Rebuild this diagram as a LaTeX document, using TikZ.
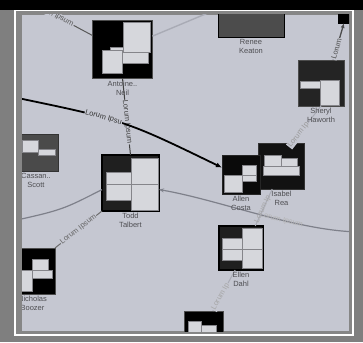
\documentclass[tikz,border=0pt]{standalone}
\usepackage{fontspec}
\setmainfont{Liberation Sans}
\usetikzlibrary{arrows.meta}
\definecolor{ltframe}{HTML}{7F7F7F}
\definecolor{ltband}{HTML}{868686}
\definecolor{ltcanvas}{HTML}{C5C7D1}
\definecolor{ltphoto}{HTML}{D6D7DC}
\definecolor{ltphotoline}{HTML}{85858A}
\definecolor{ltname}{HTML}{4E4E52}
\definecolor{ltedge}{HTML}{7E808A}
\definecolor{ltfaint}{HTML}{A9ABB5}

\begin{document}
\begin{tikzpicture}[x=1pt, y=-1pt,
  face/.style={inner sep=0pt, outer sep=0pt, draw=black!70, line width=0.8pt},
  photo/.style={fill=ltphoto, draw=ltphotoline, line width=0.5pt},
  namelabel/.style={anchor=north, yshift=-2pt, align=center, inner sep=0pt,
    text=ltname, font=\fontsize{7.5}{9}\selectfont},
  edgelabel/.style={sloped, fill=ltcanvas, inner sep=0.6pt,
    font=\fontsize{7.5}{8}\selectfont}]
  % window frame and canvas
  \fill[ltframe] (0,0) rectangle (363,342);
  \fill[ltband] (16,11) rectangle (352,334);
  \draw[white, line width=1.8pt] (15,10.5) rectangle (353,335);
  \fill[ltcanvas] (22,15) rectangle (349,331);
  \begin{scope}
    \clip (22,15) rectangle (349,331);
    % free ends of links leaving the canvas
    \coordinate (lefta) at (8,96);
    \coordinate (leftb) at (8,222);
    \coordinate (rightc) at (362,232);
    \coordinate (upleft) at (30,2);
    % people (portrait boxes)
    \node[face, fill=black, minimum width=60pt, minimum height=58pt] (antoine) at (122.5,49.5) {};
    \node[face, fill=black!70, draw=black, minimum width=66pt, minimum height=40pt] (renee) at (251,17) {};
    \node[face, fill=black, draw=black, minimum width=12pt, minimum height=13pt] (tinybox) at (344,16.5) {};
    \node[face, fill=black!86, minimum width=46pt, minimum height=46pt] (sheryl) at (321,83) {};
    \node[face, fill=black!71, draw=black!80, minimum width=44pt, minimum height=37pt] (cassan) at (36,152.5) {};
    \node[face, fill=black!88, draw=black, line width=2.5pt, minimum width=57pt, minimum height=56pt] (todd) at (130.5,183) {};
    \node[face, fill=black!93, draw=black!80, minimum width=46pt, minimum height=46pt] (isabel) at (281.5,166) {};
    \node[face, fill=black!96, draw=black!85, minimum width=38pt, minimum height=39pt] (allen) at (241,174.5) {};
    \node[face, fill=black!88, draw=black, line width=2pt, minimum width=44pt, minimum height=44pt] (ellen) at (241,248) {};
    \node[face, fill=black, minimum width=45pt, minimum height=46pt] (nicholas) at (32.5,271) {};
    \node[face, fill=black, minimum width=39pt, minimum height=34pt] (bottomnode) at (203.5,328) {};
    % portrait placeholders
    \filldraw[photo] (110,47) rectangle (148,63);
    \filldraw[photo] (123,22) rectangle (150,52);
    \filldraw[photo] (102,50) rectangle (122,73);
    \filldraw[photo] (22,140) rectangle (38,152);
    \filldraw[photo] (38,149) rectangle (55,155);
    \filldraw[photo] (300,81) rectangle (338,88);
    \filldraw[photo] (320,80) rectangle (339,105);
    \filldraw[photo] (131,158) rectangle (158,184);
    \filldraw[photo] (131,184) rectangle (158,210);
    \filldraw[photo] (106,172) rectangle (131,184);
    \filldraw[photo] (106,184) rectangle (131,200);
    \filldraw[photo] (264,155) rectangle (281,166);
    \filldraw[photo] (281,158) rectangle (297,166);
    \filldraw[photo] (263,166) rectangle (299,175);
    \filldraw[photo] (242,165) rectangle (256,175);
    \filldraw[photo] (241,175) rectangle (256,181);
    \filldraw[photo] (224,175) rectangle (242,192);
    \filldraw[photo] (222,238) rectangle (242,249);
    \filldraw[photo] (222,249) rectangle (242,260);
    \filldraw[photo] (242,228) rectangle (262,249);
    \filldraw[photo] (242,249) rectangle (262,268);
    \filldraw[photo] (32,259) rectangle (48,270);
    \filldraw[photo] (20,270) rectangle (52,278);
    \filldraw[photo] (20,270) rectangle (32,291);
    \filldraw[photo] (188,321) rectangle (201,335);
    \filldraw[photo] (201,325) rectangle (216,335);
    % links
    \draw[draw=ltfaint, line width=1.4pt] (antoine.24) -- (renee.166);
    \draw[draw=black!65, line width=1pt] (antoine.155) -- (upleft)
      node[edgelabel, pos=0.62, text=black!65] {Lorum Ipsum};
    \draw[draw=black!75, line width=1pt] (antoine.south) -- (todd.north)
      node[edgelabel, pos=0.57, text=black!75] {Lorum Ipsum};
    \draw[-{Latex[length=6pt,width=5pt]}, line width=1.8pt] (lefta) .. controls (124,120) .. (allen.160)
      node[edgelabel, pos=0.39, text=black!80] {Lorum Ipsu};
    \draw[-{Latex[length=5pt,width=4pt]}, draw=black!70, line width=1.3pt] (sheryl.62) -- (tinybox.south)
      node[edgelabel, pos=0.3, text=black!70] {Lorum};
    \draw[draw=ltfaint, line width=1pt] (isabel.65) -- (sheryl.south)
      node[edgelabel, pos=0.22, text=black!40] {Lorum Ip};
    \draw[draw=ltedge, line width=1.2pt] (leftb) .. controls (62,210) .. (todd.193);
    \draw[draw=black!58, line width=1pt] (todd.south west) -- (nicholas.north east)
      node[edgelabel, pos=0.5, text=black!60] {Lorum Ipsum};
    \draw[-{Stealth[length=5pt,width=4pt]}, draw=ltedge, line width=1.2pt]
      (rightc) .. controls (300,232) and (220,200) .. (todd.-13)
      node[edgelabel, pos=0.40, text=black!30, fill=none] {Lorum Ipsum};
    \draw[draw=ltfaint, line width=1pt] (isabel.248) -- (ellen.57)
      node[edgelabel, pos=0.55, text=black!35, fill=none] {Lorum Ip};
    \draw[draw=ltfaint, line width=1pt] (ellen.255) -- (bottomnode.61)
      node[edgelabel, pos=0.65, text=black!35] {Lorum Ip};
    % names under the portraits
    \node[namelabel] (antoinelbl) at (antoine.south) {Antoine..\\Neil};
    \node[namelabel] (reneelbl) at (renee.south) {Renee\\Keaton};
    \node[namelabel] (sheryllbl) at (sheryl.south) {Sheryl\\Haworth};
    \node[namelabel] (cassanlbl) at (cassan.south) {Cassan..\\Scott};
    \node[namelabel] (toddlbl) at (todd.south) {Todd\\Talbert};
    \node[namelabel] (isabellbl) at (isabel.south) {Isabel\\Rea};
    \node[namelabel] (allenlbl) at (allen.south) {Allen\\Costa};
    \node[namelabel] (ellenlbl) at (ellen.south) {Ellen\\Dahl};
    \node[namelabel] (nicholaslbl) at (nicholas.south) {Nicholas\\Boozer};
  \end{scope}
  % title bar
  \fill[black] (0,0) rectangle (363,10);
\end{tikzpicture}
\end{document}
